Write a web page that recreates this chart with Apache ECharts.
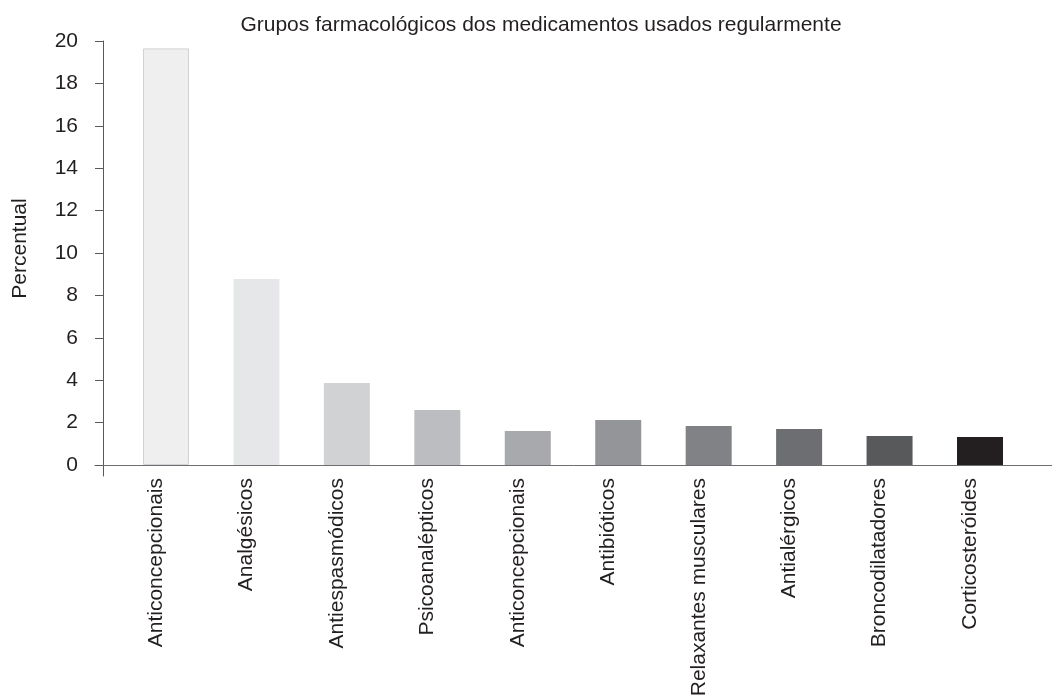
<!DOCTYPE html>
<html>
<head>
<meta charset="utf-8">
<script src="https://cdn.jsdelivr.net/npm/echarts@6/dist/echarts.min.js"></script>
<style>html,body{margin:0;padding:0;background:#fff}#c{width:1052px;height:696px}</style>
</head>
<body>
<div id="c"></div>
<script>
const chartTitle = 'Grupos farmacológicos dos medicamentos usados regularmente';
const yAxisName = 'Percentual';
const categories = ['Anticoncepcionais','Analgésicos','Antiespasmódicos','Psicoanalépticos','Anticoncepcionais','Antibióticos','Relaxantes musculares','Antialérgicos','Broncodilatadores','Corticosteróides'];
const values = [19.65, 8.77, 3.87, 2.59, 1.6, 2.12, 1.84, 1.7, 1.37, 1.32];
const barColors = ['#efefef','#e6e7e8','#d1d2d4','#bcbdc0','#a7a9ac','#939598','#808285','#6d6e71','#58595b','#231f20'];
const yTicks = [0,2,4,6,8,10,12,14,16,18,20];
const xPositions = categories.map((c,i)=>i);

const FONT = '"Liberation Sans", Arial, sans-serif';
const chart = echarts.init(document.getElementById('c'));
chart.setOption({
  animation: false,
  backgroundColor: '#ffffff',
  title: {
    text: chartTitle,
    left: 536, top: 10, textAlign: 'center',
    textStyle: {fontFamily: FONT, fontSize: 21, fontWeight: 'normal', color: '#231f20'}
  },
  grid: {left: 95, right: 0, top: 41, bottom: 220, outerBoundsMode: 'none', containLabel: false},
  xAxis: {
    type: 'value', min: -0.785, max: 9.796,
    axisLine: {show: true, onZero: true, lineStyle: {color: '#6d6e71', width: 1}},
    axisTick: {show: false},
    splitLine: {show: false},
    axisLabel: {
      customValues: xPositions.map(p => p - 0.11),
      rotate: 90, margin: 2,
      fontFamily: FONT, fontSize: 21, color: '#231f20',
      formatter: v => categories[Math.round(v)]
    }
  },
  yAxis: {
    type: 'value', min: -0.52, max: 20,
    offset: -8,
    name: yAxisName, nameLocation: 'middle', nameGap: 72,
    nameTextStyle: {fontFamily: FONT, fontSize: 21, color: '#231f20', padding: [0,0,0,20]},
    axisLine: {show: true, onZero: false, lineStyle: {color: '#58595b', width: 1}},
    axisTick: {show: true, inside: false, length: 8, customValues: yTicks, lineStyle: {color: '#58595b'}},
    splitLine: {show: false},
    axisLabel: {customValues: yTicks, margin: 25, fontFamily: FONT, fontSize: 21, color: '#231f20'}
  },
  series: [{
    type: 'bar',
    barWidth: 46,
    data: values.map((v,i)=>({
      value: [xPositions[i], v],
      itemStyle: {color: barColors[i], borderColor: i === 0 ? '#d1d2d4' : barColors[i], borderWidth: i === 0 ? 1 : 0}
    }))
  }]
});
</script>
</body>
</html>
